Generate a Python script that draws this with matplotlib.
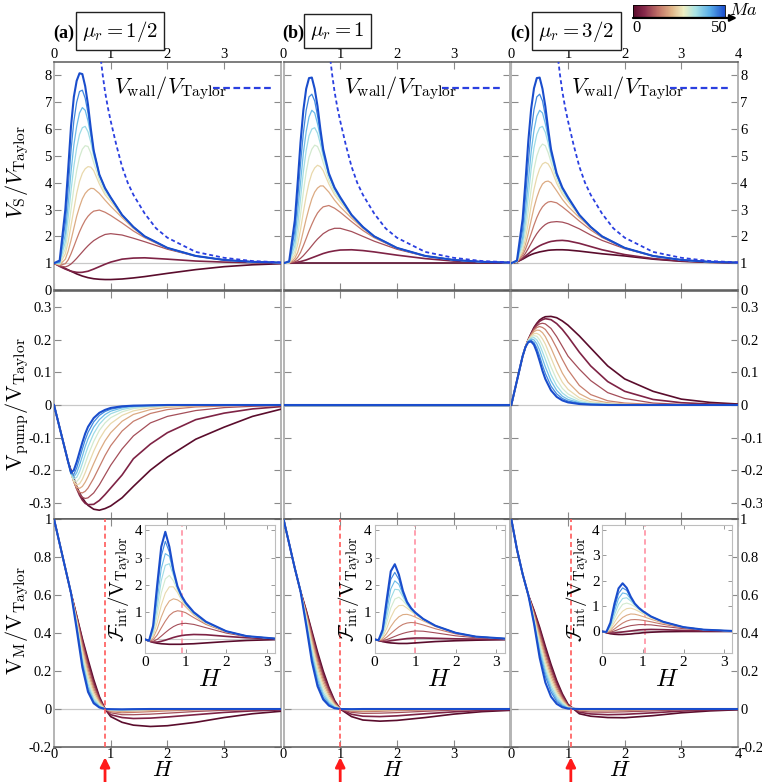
import matplotlib
matplotlib.use("Agg")
import matplotlib.pyplot as plt
from matplotlib.colors import LinearSegmentedColormap, Normalize
from matplotlib.cm import ScalarMappable

plt.rcParams['font.family'] = 'Liberation Serif'
plt.rcParams['mathtext.fontset'] = 'cm'
plt.rcParams['axes.unicode_minus'] = False

# Marangoni numbers of the curves (colour scale)
ma = [0, 5, 10, 15, 20, 25, 30, 35, 40, 45, 50]

# ---------------- row 1 : V_S / V_Taylor ----------------
h_s = [0, 0.1, 0.2, 0.25, 0.3, 0.35, 0.4, 0.45, 0.5, 0.55, 0.6, 0.65, 0.7, 0.8, 0.9, 1.0,
       1.2, 1.4, 1.6, 2.0, 2.5, 3.0, 3.5, 4.0]
vs_a = [
    [1, .9, .8, .75, .7, .65, .6, .56, .52, .49, .46, .44, .42, .4, .39, .39, .41, .45, .5, .62, .76, .87, .94, .98],
    [1, .88, .78, .74, .7, .68, .66, .655, .66, .68, .7, .74, .78, .87, .96, 1.04, 1.15, 1.19, 1.2, 1.15, 1.08, 1.04, 1.02, 1.01],
    [1, .9, .86, .9, .97, 1.07, 1.18, 1.3, 1.42, 1.54, 1.65, 1.75, 1.84, 1.97, 2.07, 2.1, 2.05, 1.93, 1.8, 1.52, 1.26, 1.12, 1.05, 1.02],
    [1, .92, .98, 1.12, 1.35, 1.62, 1.9, 2.17, 2.4, 2.6, 2.75, 2.86, 2.94, 2.98, 2.9, 2.78, 2.5, 2.2, 1.95, 1.55, 1.27, 1.12, 1.05, 1.02],
    [1, .94, 1.15, 1.45, 1.85, 2.3, 2.75, 3.1, 3.4, 3.6, 3.72, 3.79, 3.78, 3.6, 3.35, 3.12, 2.7, 2.3, 1.98, 1.56, 1.27, 1.12, 1.05, 1.02],
    [1, .96, 1.35, 1.8, 2.4, 3.0, 3.6, 4.05, 4.35, 4.52, 4.6, 4.58, 4.45, 3.95, 3.55, 3.3, 2.76, 2.33, 1.99, 1.57, 1.27, 1.12, 1.05, 1.02],
    [1, .98, 1.55, 2.2, 3.0, 3.8, 4.45, 4.95, 5.25, 5.38, 5.35, 5.1, 4.75, 4.1, 3.65, 3.38, 2.79, 2.34, 2.0, 1.57, 1.27, 1.12, 1.05, 1.02],
    [1, 1.0, 1.8, 2.7, 3.7, 4.6, 5.3, 5.8, 6.05, 6.1, 5.9, 5.5, 5.0, 4.25, 3.75, 3.42, 2.8, 2.35, 2.0, 1.57, 1.27, 1.12, 1.05, 1.02],
    [1, 1.02, 2.1, 3.2, 4.4, 5.4, 6.1, 6.6, 6.8, 6.7, 6.3, 5.75, 5.15, 4.3, 3.78, 3.43, 2.8, 2.35, 2.0, 1.57, 1.27, 1.12, 1.05, 1.02],
    [1, 1.05, 2.5, 3.8, 5.2, 6.3, 7.0, 7.4, 7.45, 7.15, 6.6, 5.9, 5.2, 4.3, 3.8, 3.45, 2.8, 2.35, 2.0, 1.57, 1.27, 1.12, 1.05, 1.02],
    [1, 1.1, 3.0, 4.5, 6.1, 7.2, 7.8, 8.08, 8.05, 7.6, 6.9, 6.0, 5.2, 4.3, 3.8, 3.45, 2.8, 2.35, 2.0, 1.57, 1.27, 1.12, 1.05, 1.02],
]
vs_b = [
    [1, 1, 1, 1, 1, 1, 1, 1, 1, 1, 1, 1, 1, 1, 1, 1, 1, 1, 1, 1, 1, 1, 1, 1],
    [1, 1.0, 1.02, 1.04, 1.06, 1.09, 1.12, 1.16, 1.2, 1.24, 1.28, 1.32, 1.36, 1.42, 1.46, 1.49, 1.5, 1.47, 1.42, 1.3, 1.17, 1.08, 1.04, 1.02],
    [1, 1.0, 1.05, 1.1, 1.18, 1.28, 1.4, 1.52, 1.65, 1.78, 1.9, 2.0, 2.1, 2.23, 2.3, 2.3, 2.18, 2.0, 1.82, 1.52, 1.26, 1.12, 1.05, 1.02],
    [1, 1.0, 1.1, 1.22, 1.4, 1.65, 1.92, 2.2, 2.45, 2.68, 2.87, 3.0, 3.1, 3.15, 3.05, 2.9, 2.55, 2.22, 1.95, 1.55, 1.27, 1.12, 1.05, 1.02],
    [1, 1.0, 1.18, 1.4, 1.75, 2.2, 2.65, 3.05, 3.4, 3.65, 3.8, 3.88, 3.88, 3.65, 3.35, 3.1, 2.68, 2.3, 1.98, 1.56, 1.27, 1.12, 1.05, 1.02],
    [1, 1.01, 1.3, 1.7, 2.25, 2.9, 3.5, 4.0, 4.35, 4.55, 4.65, 4.6, 4.45, 3.95, 3.55, 3.28, 2.76, 2.33, 1.99, 1.57, 1.27, 1.12, 1.05, 1.02],
    [1, 1.02, 1.45, 2.0, 2.8, 3.65, 4.4, 4.95, 5.25, 5.4, 5.35, 5.1, 4.75, 4.1, 3.65, 3.35, 2.79, 2.34, 2.0, 1.57, 1.27, 1.12, 1.05, 1.02],
    [1, 1.03, 1.65, 2.4, 3.4, 4.4, 5.2, 5.75, 6.0, 6.05, 5.85, 5.45, 5.0, 4.25, 3.75, 3.4, 2.8, 2.35, 2.0, 1.57, 1.27, 1.12, 1.05, 1.02],
    [1, 1.04, 1.9, 2.9, 4.0, 5.1, 5.9, 6.45, 6.7, 6.6, 6.2, 5.7, 5.1, 4.3, 3.78, 3.42, 2.8, 2.35, 2.0, 1.57, 1.27, 1.12, 1.05, 1.02],
    [1, 1.05, 2.2, 3.4, 4.7, 5.85, 6.7, 7.2, 7.3, 7.05, 6.5, 5.85, 5.2, 4.3, 3.8, 3.44, 2.8, 2.35, 2.0, 1.57, 1.27, 1.12, 1.05, 1.02],
    [1, 1.07, 2.6, 4.0, 5.5, 6.7, 7.5, 7.9, 7.92, 7.5, 6.85, 6.0, 5.25, 4.35, 3.82, 3.46, 2.8, 2.35, 2.0, 1.57, 1.27, 1.12, 1.05, 1.02],
]
vs_c = [
    [1, 1.05, 1.15, 1.21, 1.27, 1.32, 1.36, 1.39, 1.42, 1.44, 1.46, 1.48, 1.49, 1.5, 1.5, 1.49, 1.45, 1.4, 1.35, 1.27, 1.15, 1.07, 1.03, 1.01],
    [1, 1.05, 1.17, 1.26, 1.35, 1.44, 1.52, 1.59, 1.65, 1.7, 1.74, 1.78, 1.81, 1.84, 1.85, 1.83, 1.74, 1.62, 1.5, 1.32, 1.17, 1.08, 1.04, 1.02],
    [1, 1.05, 1.22, 1.37, 1.55, 1.74, 1.93, 2.1, 2.24, 2.35, 2.44, 2.5, 2.53, 2.55, 2.53, 2.47, 2.28, 2.05, 1.85, 1.54, 1.27, 1.12, 1.05, 1.02],
    [1, 1.05, 1.3, 1.52, 1.8, 2.1, 2.42, 2.7, 2.93, 3.1, 3.21, 3.28, 3.3, 3.25, 3.1, 2.93, 2.57, 2.24, 1.96, 1.56, 1.27, 1.12, 1.05, 1.02],
    [1, 1.05, 1.38, 1.7, 2.12, 2.6, 3.07, 3.45, 3.75, 3.95, 4.04, 4.06, 4.0, 3.7, 3.38, 3.12, 2.7, 2.32, 1.99, 1.57, 1.27, 1.12, 1.05, 1.02],
    [1, 1.06, 1.48, 1.92, 2.5, 3.15, 3.75, 4.2, 4.52, 4.7, 4.76, 4.7, 4.52, 3.98, 3.57, 3.3, 2.76, 2.33, 1.99, 1.57, 1.27, 1.12, 1.05, 1.02],
    [1, 1.06, 1.6, 2.2, 2.95, 3.75, 4.5, 5.0, 5.3, 5.44, 5.38, 5.12, 4.77, 4.12, 3.66, 3.36, 2.79, 2.34, 2.0, 1.57, 1.27, 1.12, 1.05, 1.02],
    [1, 1.07, 1.75, 2.5, 3.5, 4.5, 5.3, 5.8, 6.05, 6.1, 5.88, 5.47, 5.0, 4.26, 3.76, 3.4, 2.8, 2.35, 2.0, 1.57, 1.27, 1.12, 1.05, 1.02],
    [1, 1.07, 1.95, 2.95, 4.05, 5.15, 5.95, 6.48, 6.7, 6.6, 6.2, 5.7, 5.1, 4.3, 3.78, 3.42, 2.8, 2.35, 2.0, 1.57, 1.27, 1.12, 1.05, 1.02],
    [1, 1.08, 2.25, 3.45, 4.75, 5.9, 6.72, 7.2, 7.3, 7.05, 6.5, 5.85, 5.2, 4.3, 3.8, 3.44, 2.8, 2.35, 2.0, 1.57, 1.27, 1.12, 1.05, 1.02],
    [1, 1.1, 2.65, 4.05, 5.55, 6.75, 7.52, 7.9, 7.92, 7.5, 6.85, 6.0, 5.25, 4.35, 3.82, 3.46, 2.8, 2.35, 2.0, 1.57, 1.27, 1.12, 1.05, 1.02],
]
h_wall = [0.78, 0.82, 0.86, 0.9, 0.95, 1.0, 1.1, 1.2, 1.3, 1.4, 1.6, 1.8, 2.0, 2.5, 3.0, 3.5, 4.0]
v_wall = [9.6, 8.7, 8.0, 7.4, 6.8, 6.3, 5.4, 4.6, 4.0, 3.55, 2.85, 2.3, 1.95, 1.42, 1.2, 1.08, 1.03]

# ---------------- row 2 : V_pump / V_Taylor ----------------
h_p = [0, 0.1, 0.2, 0.25, 0.3, 0.35, 0.4, 0.45, 0.5, 0.55, 0.6, 0.7, 0.8, 0.9, 1.0, 1.2, 1.4, 1.7,
       2.0, 2.5, 3.0, 3.5, 4.0]
pump_a = [
    [0, -.07, -.14, -.175, -.2, -.225, -.25, -.27, -.285, -.298, -.308, -.32, -.323, -.318, -.31, -.285, -.25, -.2, -.16, -.105, -.068, -.035, -.013],
    [0, -.07, -.14, -.175, -.205, -.232, -.257, -.277, -.292, -.302, -.306, -.305, -.293, -.275, -.255, -.215, -.165, -.12, -.085, -.045, -.025, -.012, -.005],
    [0, -.07, -.14, -.175, -.207, -.235, -.257, -.273, -.283, -.287, -.285, -.27, -.245, -.215, -.185, -.135, -.095, -.055, -.035, -.017, -.008, -.004, -.002],
    [0, -.07, -.14, -.175, -.208, -.237, -.257, -.268, -.27, -.265, -.255, -.225, -.19, -.155, -.125, -.08, -.05, -.026, -.014, -.006, -.003, -.001, 0],
    [0, -.07, -.14, -.175, -.209, -.237, -.252, -.256, -.25, -.237, -.22, -.18, -.142, -.11, -.085, -.05, -.029, -.014, -.007, -.003, -.001, 0, 0],
    [0, -.07, -.14, -.175, -.21, -.235, -.245, -.242, -.228, -.208, -.185, -.142, -.105, -.077, -.057, -.032, -.018, -.008, -.004, -.001, 0, 0, 0],
    [0, -.07, -.14, -.175, -.21, -.232, -.235, -.225, -.205, -.18, -.155, -.112, -.078, -.055, -.039, -.021, -.011, -.005, -.002, -.001, 0, 0, 0],
    [0, -.07, -.14, -.175, -.21, -.227, -.222, -.205, -.18, -.153, -.128, -.088, -.059, -.04, -.027, -.014, -.007, -.003, -.001, 0, 0, 0, 0],
    [0, -.07, -.14, -.175, -.21, -.221, -.208, -.185, -.157, -.128, -.104, -.068, -.045, -.029, -.019, -.009, -.004, -.002, -.001, 0, 0, 0, 0],
    [0, -.07, -.14, -.175, -.21, -.213, -.193, -.165, -.135, -.107, -.084, -.052, -.032, -.02, -.013, -.006, -.003, -.001, 0, 0, 0, 0, 0],
    [0, -.07, -.14, -.175, -.208, -.2, -.175, -.145, -.115, -.088, -.067, -.04, -.024, -.015, -.009, -.004, -.002, -.001, 0, 0, 0, 0, 0],
]
h_flat = [0, 4]
pump_b = [0, 0]
pump_c = [
    [0, .075, .15, .178, .201, .22, .238, .251, .261, .267, .271, .272, .268, .258, .245, .212, .175, .12, .08, .042, .018, .008, .003],
    [0, .075, .15, .178, .201, .219, .236, .248, .257, .262, .265, .262, .25, .232, .21, .162, .12, .072, .042, .017, .007, .003, .001],
    [0, .075, .15, .178, .201, .218, .233, .243, .249, .251, .249, .235, .21, .18, .15, .11, .075, .038, .02, .006, .002, .001, 0],
    [0, .075, .15, .178, .2, .216, .23, .238, .241, .238, .232, .208, .175, .14, .108, .06, .032, .013, .006, .002, 0, 0, 0],
    [0, .075, .15, .178, .2, .214, .225, .23, .229, .222, .21, .175, .135, .098, .07, .035, .017, .007, .003, .001, 0, 0, 0],
    [0, .075, .15, .178, .199, .211, .219, .22, .215, .203, .187, .145, .103, .07, .048, .022, .01, .004, .002, 0, 0, 0, 0],
    [0, .075, .15, .178, .198, .208, .213, .211, .2, .183, .163, .117, .078, .051, .034, .015, .007, .003, .001, 0, 0, 0, 0],
    [0, .075, .15, .178, .197, .205, .207, .2, .185, .163, .14, .093, .059, .037, .024, .01, .004, .002, .001, 0, 0, 0, 0],
    [0, .075, .15, .178, .196, .202, .2, .188, .168, .142, .117, .074, .045, .027, .017, .007, .003, .001, 0, 0, 0, 0, 0],
    [0, .075, .15, .178, .195, .198, .192, .175, .15, .122, .097, .058, .034, .02, .012, .005, .002, .001, 0, 0, 0, 0, 0],
    [0, .075, .15, .178, .193, .195, .185, .163, .135, .105, .08, .045, .025, .014, .008, .003, .001, 0, 0, 0, 0, 0, 0],
]

# ---------------- row 3 : V_M / V_Taylor ----------------
h_m = [0, 0.1, 0.2, 0.3, 0.4, 0.5, 0.6, 0.7, 0.8, 0.9, 1.0, 1.2, 1.4, 1.7, 2.0, 2.5, 3.0, 3.5, 4.0]
vm_a = [
    [1, .87, .74, .61, .49, .37, .26, .155, .065, 0, -.04, -.07, -.085, -.092, -.088, -.07, -.045, -.025, -.012],
    [1, .87, .74, .61, .488, .362, .245, .14, .058, 0, -.03, -.045, -.05, -.048, -.042, -.03, -.018, -.01, -.005],
    [1, .87, .74, .61, .484, .35, .23, .125, .05, 0, -.02, -.03, -.03, -.027, -.022, -.013, -.007, -.004, -.002],
    [1, .87, .74, .61, .478, .335, .21, .11, .042, 0, -.014, -.02, -.018, -.014, -.01, -.005, -.002, -.001, 0],
    [1, .87, .74, .61, .47, .315, .19, .095, .035, 0, -.01, -.013, -.011, -.008, -.005, -.002, -.001, 0, 0],
    [1, .87, .74, .61, .462, .3, .17, .08, .028, 0, -.007, -.008, -.007, -.004, -.002, -.001, 0, 0, 0],
    [1, .87, .74, .61, .455, .28, .15, .065, .022, 0, -.005, -.006, -.004, -.002, -.001, 0, 0, 0, 0],
    [1, .87, .74, .61, .448, .265, .13, .053, .017, 0, -.003, -.004, -.003, -.001, 0, 0, 0, 0, 0],
    [1, .87, .74, .61, .44, .25, .115, .043, .013, 0, -.002, -.003, -.002, -.001, 0, 0, 0, 0, 0],
    [1, .87, .74, .61, .432, .235, .1, .036, .01, 0, -.002, -.002, -.001, 0, 0, 0, 0, 0, 0],
    [1, .87, .74, .61, .42, .22, .09, .03, .008, 0, -.001, -.002, -.001, 0, 0, 0, 0, 0, 0],
]
vm_b = [
    [1, .87, .74, .62, .52, .41, .3, .2, .115, .045, 0, -.04, -.058, -.064, -.06, -.045, -.027, -.014, -.007],
    [1, .87, .74, .62, .515, .4, .285, .185, .105, .04, 0, -.028, -.038, -.04, -.036, -.025, -.015, -.008, -.004],
    [1, .87, .74, .62, .51, .39, .27, .17, .095, .035, 0, -.018, -.023, -.022, -.019, -.012, -.006, -.003, -.001],
    [1, .87, .74, .62, .503, .375, .253, .155, .083, .03, 0, -.012, -.014, -.012, -.009, -.005, -.002, -.001, 0],
    [1, .87, .74, .62, .495, .358, .233, .138, .072, .025, 0, -.008, -.009, -.007, -.005, -.002, -.001, 0, 0],
    [1, .87, .74, .62, .487, .34, .213, .12, .06, .02, 0, -.005, -.005, -.004, -.002, -.001, 0, 0, 0],
    [1, .87, .74, .62, .478, .322, .193, .103, .049, .016, 0, -.003, -.003, -.002, -.001, 0, 0, 0, 0],
    [1, .87, .74, .62, .469, .304, .173, .087, .039, .012, 0, -.002, -.002, -.001, 0, 0, 0, 0, 0],
    [1, .87, .74, .62, .46, .286, .155, .073, .031, .009, 0, -.001, -.001, 0, 0, 0, 0, 0, 0],
    [1, .87, .74, .62, .45, .268, .137, .06, .024, .006, 0, -.001, -.001, 0, 0, 0, 0, 0, 0],
    [1, .87, .74, .62, .44, .25, .12, .05, .018, .004, 0, -.001, 0, 0, 0, 0, 0, 0, 0],
]
vm_c = [
    [1, .84, .71, .6, .52, .43, .33, .235, .15, .08, .025, -.025, -.038, -.045, -.046, -.035, -.02, -.01, -.004],
    [1, .84, .71, .6, .515, .42, .315, .22, .138, .072, .02, -.017, -.026, -.03, -.028, -.02, -.011, -.005, -.002],
    [1, .84, .71, .6, .508, .405, .3, .205, .125, .064, .017, -.011, -.016, -.017, -.015, -.01, -.005, -.002, -.001],
    [1, .84, .71, .6, .5, .39, .283, .19, .112, .056, .015, -.007, -.01, -.01, -.008, -.004, -.002, -.001, 0],
    [1, .84, .71, .6, .492, .373, .264, .172, .099, .048, .012, -.004, -.006, -.005, -.004, -.002, -.001, 0, 0],
    [1, .84, .71, .6, .484, .356, .245, .155, .087, .041, .01, -.003, -.004, -.003, -.002, -.001, 0, 0, 0],
    [1, .84, .71, .6, .476, .34, .226, .138, .075, .034, .008, -.002, -.002, -.002, -.001, 0, 0, 0, 0],
    [1, .84, .71, .6, .468, .322, .207, .121, .063, .027, .006, -.001, -.001, -.001, 0, 0, 0, 0, 0],
    [1, .84, .71, .6, .46, .305, .19, .105, .051, .02, .004, -.001, -.001, 0, 0, 0, 0, 0, 0],
    [1, .84, .71, .6, .455, .288, .172, .09, .04, .015, .003, 0, 0, 0, 0, 0, 0, 0, 0],
    [1, .84, .71, .6, .45, .27, .14, .065, .027, .009, .002, 0, 0, 0, 0, 0, 0, 0, 0],
]
h_cross = [0.9, 1.0, 1.05]

# ---------------- insets : F_int / V_Taylor ----------------
h_f = [0, 0.1, 0.2, 0.3, 0.4, 0.5, 0.6, 0.7, 0.8, 0.9, 1.0, 1.2, 1.5, 2.0, 2.5, 3.2]
f_a = [
    [0, -.06, -.11, -.14, -.16, -.17, -.18, -.18, -.18, -.18, -.17, -.16, -.13, -.08, -.04, -.01],
    [0, -.06, -.1, -.1, -.07, -.03, .02, .07, .11, .14, .16, .18, .17, .11, .06, .02],
    [0, -.06, -.07, 0, .12, .25, .37, .47, .54, .58, .59, .55, .43, .23, .1, .03],
    [0, -.06, -.02, .16, .42, .67, .88, 1.0, 1.05, 1.03, .98, .8, .55, .27, .11, .03],
    [0, -.05, .05, .38, .82, 1.18, 1.41, 1.49, 1.45, 1.35, 1.2, .9, .58, .28, .12, .03],
    [0, -.05, .13, .62, 1.25, 1.7, 1.93, 1.93, 1.72, 1.45, 1.24, .93, .6, .29, .12, .03],
    [0, -.05, .2, .88, 1.7, 2.22, 2.35, 2.15, 1.8, 1.5, 1.27, .95, .61, .29, .12, .03],
    [0, -.05, .27, 1.15, 2.15, 2.72, 2.78, 2.35, 1.86, 1.53, 1.29, .96, .62, .29, .12, .03],
    [0, -.05, .35, 1.45, 2.6, 3.15, 3.05, 2.45, 1.9, 1.56, 1.31, .97, .63, .3, .12, .03],
    [0, -.05, .45, 1.8, 3.05, 3.6, 3.2, 2.5, 1.92, 1.58, 1.33, .98, .64, .3, .12, .03],
    [0, -.05, .5, 2.0, 3.4, 3.95, 3.4, 2.55, 1.95, 1.6, 1.35, 1.0, .65, .3, .12, .03],
]
f_b = [
    [0, -.04, -.08, -.11, -.13, -.14, -.15, -.15, -.15, -.14, -.13, -.11, -.08, -.05, -.03, -.01],
    [0, -.04, -.07, -.07, -.05, -.03, -.01, .01, .03, .04, .05, .05, .04, .02, .01, 0],
    [0, -.04, -.05, -.01, .05, .11, .17, .22, .26, .29, .31, .3, .24, .13, .06, .02],
    [0, -.04, -.02, .08, .21, .34, .46, .55, .6, .62, .61, .53, .39, .2, .09, .02],
    [0, -.03, .03, .22, .47, .68, .83, .91, .92, .88, .82, .68, .47, .23, .1, .03],
    [0, -.03, .08, .4, .8, 1.1, 1.24, 1.25, 1.15, 1.03, .92, .72, .49, .24, .1, .03],
    [0, -.03, .13, .6, 1.15, 1.48, 1.55, 1.42, 1.24, 1.07, .95, .73, .5, .24, .1, .03],
    [0, -.03, .18, .8, 1.5, 1.84, 1.82, 1.56, 1.29, 1.1, .96, .74, .5, .24, .1, .03],
    [0, -.03, .24, 1.02, 1.85, 2.15, 2.02, 1.65, 1.32, 1.12, .97, .74, .5, .24, .1, .03],
    [0, -.03, .3, 1.25, 2.2, 2.46, 2.2, 1.72, 1.35, 1.13, .98, .75, .5, .24, .1, .03],
    [0, -.03, .36, 1.45, 2.5, 2.76, 2.38, 1.78, 1.38, 1.15, .99, .75, .5, .24, .1, .03],
]
f_c = [
    [0, -.05, -.09, -.11, -.12, -.12, -.11, -.1, -.08, -.07, -.05, -.03, -.01, 0, 0, 0],
    [0, -.04, -.06, -.06, -.04, -.02, 0, .02, .04, .06, .07, .08, .07, .04, .02, .01],
    [0, -.04, -.03, .02, .08, .14, .19, .23, .25, .27, .27, .26, .2, .11, .05, .01],
    [0, -.03, 0, .1, .22, .33, .41, .46, .47, .46, .44, .38, .28, .14, .06, .02],
    [0, -.03, .05, .22, .4, .55, .64, .69, .68, .64, .59, .48, .33, .16, .07, .02],
    [0, -.03, .1, .36, .61, .8, .9, .92, .87, .79, .7, .54, .36, .17, .07, .02],
    [0, -.02, .15, .5, .84, 1.07, 1.12, 1.07, .98, .86, .75, .57, .37, .17, .07, .02],
    [0, -.02, .2, .65, 1.07, 1.3, 1.33, 1.2, 1.04, .89, .77, .58, .38, .17, .07, .02],
    [0, -.02, .25, .8, 1.3, 1.52, 1.48, 1.28, 1.07, .91, .78, .58, .38, .17, .07, .02],
    [0, -.02, .3, .95, 1.5, 1.72, 1.62, 1.33, 1.09, .92, .79, .59, .38, .17, .07, .02],
    [0, -.02, .35, 1.1, 1.7, 1.9, 1.72, 1.37, 1.1, .93, .8, .59, .38, .17, .07, .02],
]

panel_tags = ['(a)', '(b)', '(c)']
mu_labels = [r'$\mu_r = 1/2$', r'$\mu_r = 1$', r'$\mu_r = 3/2$']
s_ticks = [0, 1, 2, 3, 4, 5, 6, 7, 8]
s_ticklabels = ['0', '1', '2', '3', '4', '5', '6', '7', '8']
p_ticks = [-0.3, -0.2, -0.1, 0, 0.1, 0.2, 0.3]
p_ticklabels = ['-0.3', '-0.2', '-0.1', '0', '0.1', '0.2', '0.3']
m_ticks = [-0.2, 0, 0.2, 0.4, 0.6, 0.8, 1]
m_ticklabels = ['-0.2', '0', '0.2', '0.4', '0.6', '0.8', '1']
f_ylims = [(-0.5, 4.2), (-0.5, 4.2), (-0.85, 4.2)]

cmap = LinearSegmentedColormap.from_list('ma', [
    (0.0, '#5a0c2c'), (0.12, '#86284a'), (0.28, '#c27468'), (0.42, '#e0b487'),
    (0.55, '#eeeec2'), (0.68, '#a9e3e4'), (0.84, '#58ade9'), (1.0, '#1a4dcc')])
norm = Normalize(0, 50)

W, Hpx = 762.0, 782.0
fig = plt.figure(figsize=(7.62, 7.82), dpi=100)
lefts = [54 / W, 283.5 / W, 511.3 / W]
width = 226.8 / W
bottoms = [1 - 290 / Hpx, 1 - 519 / Hpx, 1 - 747 / Hpx]
height = 228 / Hpx


def draw_curves(ax, h, table, thin=0.9):
    for i, m in enumerate(ma):
        lw = 1.5 if m == 50 else (1.2 if m <= 5 else thin)
        ax.plot(h, table[i], color=cmap(norm(m)), lw=lw, zorder=3 + i * 0.01)


def style(ax, row, col):
    for s in ['left', 'right']:
        ax.spines[s].set_color('#b4b4b4')
        ax.spines[s].set_linewidth(1.4)
    for s in ['top', 'bottom']:
        ax.spines[s].set_color('#5a5a5a')
        ax.spines[s].set_linewidth(1.1)
    ax.tick_params(direction='in', length=5, width=0.8, color='#8a8a8a',
                   top=True, bottom=True, left=True, right=True,
                   labelsize=10.5, pad=3,
                   labelleft=(col == 0), labelright=(col == 2),
                   labeltop=(row == 0), labelbottom=(row == 2))
    ax.tick_params(axis='x', pad=1)
    ax.tick_params(axis='y', pad=1.5)
    ax.set_xlim(0, 4)
    if col == 2:
        ax.set_xticks([0, 1, 2, 3, 4], ['0', '1', '2', '3', '4'])
    else:
        ax.set_xticks([0, 1, 2, 3], ['0', '1', '2', '3'])


tables_s = [vs_a, vs_b, vs_c]
tables_p = [pump_a, None, pump_c]
tables_m = [vm_a, vm_b, vm_c]
tables_f = [f_a, f_b, f_c]

for col in range(3):
    # row 1
    ax = fig.add_axes([lefts[col], bottoms[0], width, height])
    ax.axhline(1, color='#c8c8c8', lw=0.9, zorder=1)
    draw_curves(ax, h_s, tables_s[col])
    ax.plot(h_wall, v_wall, color='#2a3fe0', lw=1.3, ls=(0, (2.2, 1.6)), zorder=5)
    ax.set_ylim(0, 8.5)
    ax.set_yticks(s_ticks, s_ticklabels)
    style(ax, 0, col)
    ax.text(0.265, 0.885, r'$V_{\rm wall}/V_{\rm Taylor}$', transform=ax.transAxes,
            fontsize=16, ha='left', va='center')
    ax.plot([0.7, 0.97], [0.885, 0.885], transform=ax.transAxes, color='#2a3fe0',
            lw=1.6, ls=(0, (3, 1.6)), clip_on=False)

    # row 2
    ax = fig.add_axes([lefts[col], bottoms[1], width, height])
    ax.axhline(0, color='#c8c8c8', lw=0.9, zorder=1)
    if tables_p[col] is None:
        for i, m in enumerate(ma):
            ax.plot(h_flat, pump_b, color=cmap(norm(m)), lw=1.5 if m == 50 else 1.0,
                    zorder=3 + i * 0.01)
    else:
        draw_curves(ax, h_p, tables_p[col])
    ax.set_ylim(-0.35, 0.35)
    ax.set_yticks(p_ticks, p_ticklabels)
    style(ax, 1, col)

    # row 3
    ax = fig.add_axes([lefts[col], bottoms[2], width, height])
    ax.axhline(0, color='#c8c8c8', lw=0.9, zorder=1)
    draw_curves(ax, h_m, tables_m[col])
    ax.axvline(h_cross[col], color='#ff5a5a', lw=1.2, ls=(0, (3, 2)), zorder=4)
    ax.set_ylim(-0.2, 1)
    ax.set_yticks(m_ticks, m_ticklabels)
    style(ax, 2, col)
    ax.text(0.48, -0.108, r'$H$', transform=ax.transAxes, fontsize=16,
            ha='center', va='center')
    ax.annotate('', xy=(h_cross[col], -0.045), xytext=(h_cross[col], -0.153),
                xycoords=('data', 'axes fraction'), textcoords=('data', 'axes fraction'),
                arrowprops=dict(arrowstyle='-|>', color='#ff1a1a', lw=2,
                                mutation_scale=14, shrinkA=0, shrinkB=0),
                annotation_clip=False)

    # inset
    ins = fig.add_axes([lefts[col] + 91 / W, 1 - 653 / Hpx, 130 / W, 128 / Hpx])
    ins.axhline(0, color='#c8c8c8', lw=0.8, zorder=1)
    draw_curves(ins, h_f, tables_f[col], thin=0.8)
    ins.axvline(h_cross[col], color='#ff9aaa', lw=1.3, ls=(0, (3, 2)), zorder=2)
    ins.set_xlim(0, 3.2)
    ins.set_ylim(*f_ylims[col])
    ins.set_xticks([0, 1, 2, 3], ['0', '1', '2', '3'])
    ins.set_yticks([0, 1, 2, 3, 4], ['0', '1', '2', '3', '4'])
    for s in ins.spines.values():
        s.set_color('#bdbdbd')
    ins.tick_params(direction='in', length=3, width=0.7, color='#9a9a9a', labelsize=11,
                    top=True, right=True, pad=2)
    ins.set_ylabel(r'$\mathcal{F}_{\rm int}/\mathrm{V}_{\rm Taylor}$', fontsize=15, labelpad=1)
    ins.set_xlabel(r'$H$', fontsize=18, labelpad=0)

    # panel headers
    fig.text(lefts[col] - 1 / W, 1 - 33 / Hpx, panel_tags[col], fontsize=13,
             fontweight='bold', ha='left', va='center')
    fig.text(lefts[col] + [66, 54, 65][col] / W, 1 - 31 / Hpx, mu_labels[col], fontsize=15,
             ha='center', va='center',
             bbox=dict(boxstyle='square,pad=0.3', fc='white', ec='#222222', lw=1))

# row labels
fig.text(0.022, 1 - 172 / Hpx, r'$V_{\rm S}/V_{\rm Taylor}$', rotation=90, fontsize=16,
         ha='center', va='center')
fig.text(0.022, 1 - 404 / Hpx, r'$\mathrm{V}_{\rm pump}/\mathrm{V}_{\rm Taylor}$', rotation=90,
         fontsize=16, ha='center', va='center')
fig.text(0.022, 1 - 620 / Hpx, r'$\mathrm{V}_{\rm M}/\mathrm{V}_{\rm Taylor}$', rotation=90,
         fontsize=16, ha='center', va='center')

# colour bar for Ma
cax = fig.add_axes([633 / W, 1 - 17 / Hpx, 92 / W, 12 / Hpx])
cb = fig.colorbar(ScalarMappable(norm=norm, cmap=cmap), cax=cax, orientation='horizontal')
cb.set_ticks([])
cb.outline.set_linewidth(0.6)
cax.annotate('', xy=(1.13, -0.08), xytext=(0, -0.08), xycoords='axes fraction',
             arrowprops=dict(arrowstyle='-|>', color='black', lw=1.6, mutation_scale=10,
                             shrinkA=0, shrinkB=0), annotation_clip=False)
cax.text(0.04, -0.95, '0', transform=cax.transAxes, fontsize=12, ha='center', va='center')
cax.text(0.94, -0.95, '50', transform=cax.transAxes, fontsize=12, ha='center', va='center')
cax.text(1.04, 0.55, r'$Ma$', transform=cax.transAxes, fontsize=13, ha='left', va='center')

fig.savefig('out.png', dpi=100)
